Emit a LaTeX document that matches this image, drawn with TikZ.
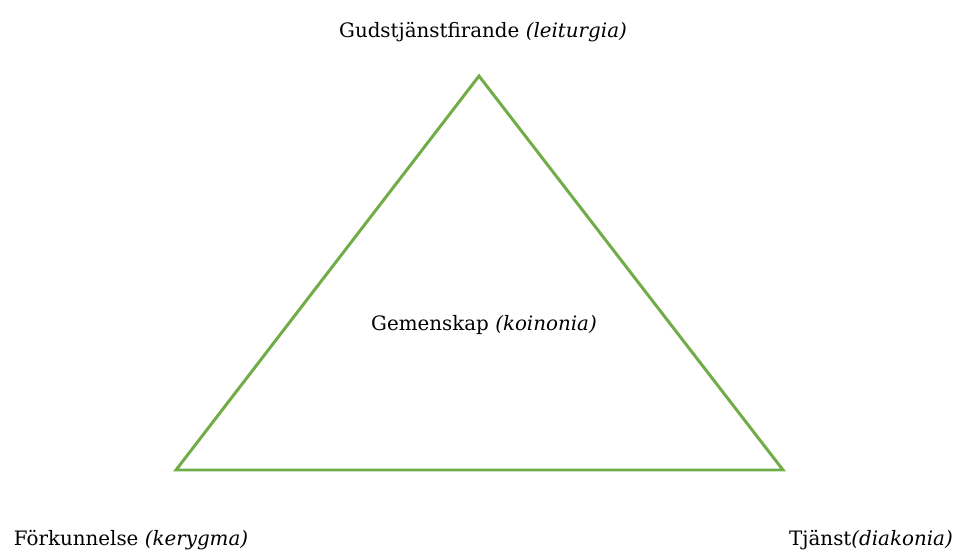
\documentclass[tikz,border=0pt]{standalone}
\usepackage{fontspec}
\setmainfont{DejaVu Serif}
\usepackage{tikz}
\usetikzlibrary{positioning}
\definecolor{officegreen}{RGB}{112,173,71}

\begin{document}
\begin{tikzpicture}[
        label/.style={font=\fontsize{11.3}{13}\selectfont, inner sep=0pt},
        side/.style={line width=1.7pt, officegreen, line join=miter}
    ]
    \useasboundingbox (0,0) rectangle (19.14,11.08);

    % corners of the triangle
    \coordinate (top) at (9.58,9.56);
    \coordinate (left) at (3.52,1.68);
    \coordinate (right) at (15.66,1.68);
    \draw[side] (top) -- (left) -- (right) -- cycle;

    \node[label] (leiturgia) at (9.66,10.44) {Gudstjänstfirande \textit{(leiturgia)}};
    \node[label] (koinonia) at (9.68,4.58) {Gemenskap \textit{(koinonia)}};
    \node[label] (kerygma) at (2.62,0.28) {Förkunnelse \textit{(kerygma)}};
    \node[label] (diakonia) at (17.42,0.28) {Tjänst\textit{(diakonia)}};
\end{tikzpicture}
\end{document}
